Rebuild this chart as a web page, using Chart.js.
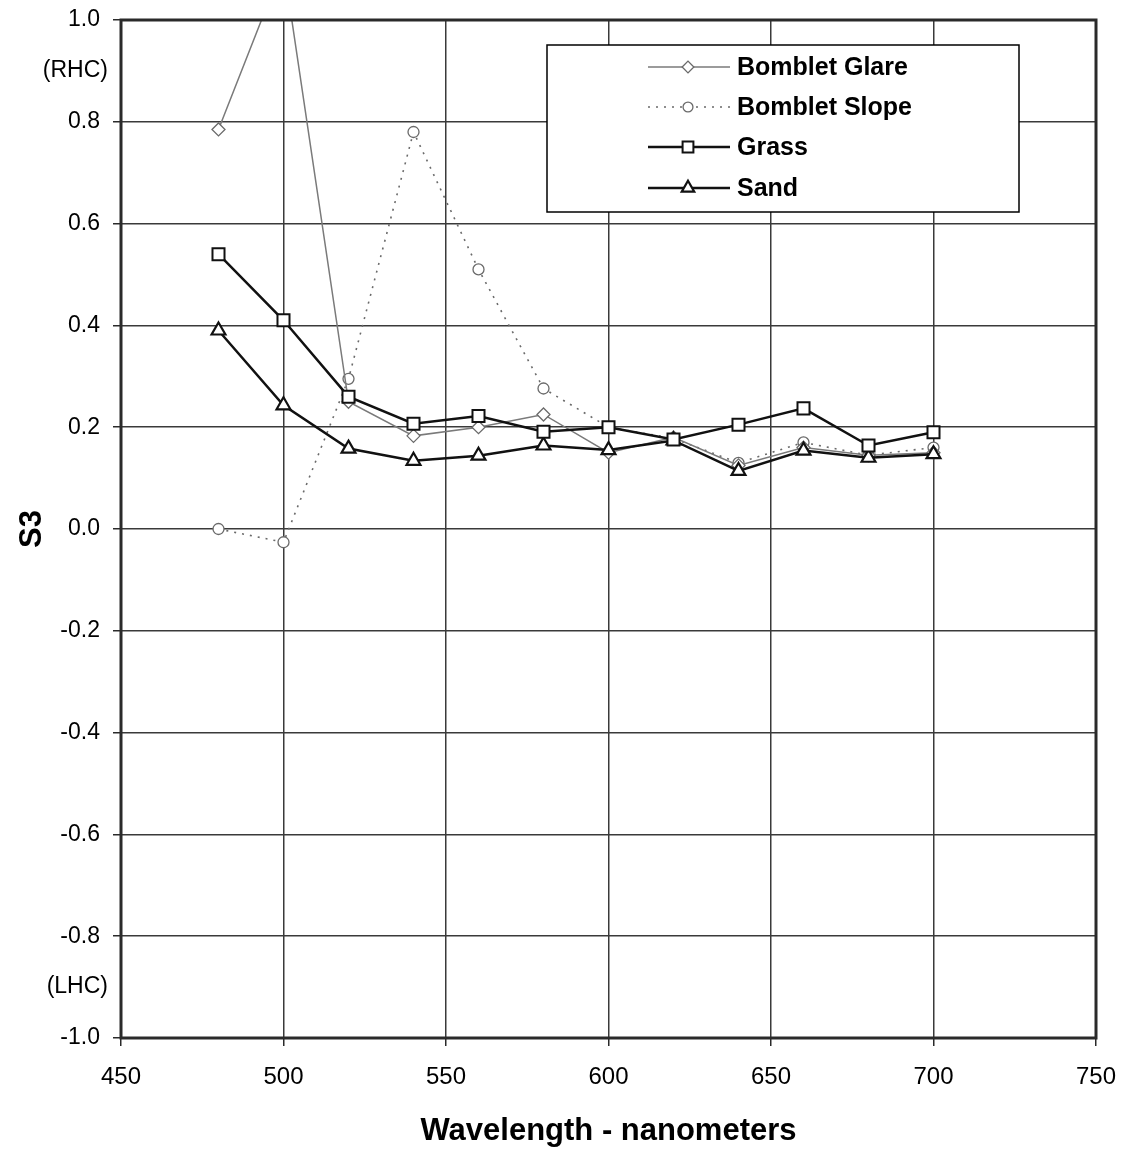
<!DOCTYPE html>
<html><head><meta charset="utf-8">
<script src="https://cdn.jsdelivr.net/npm/chart.js@4/dist/chart.umd.min.js"></script>
<style>html,body{margin:0;padding:0;background:#fff}#wrap{width:1125px;height:1150px;position:relative}</style>
</head><body><div id="wrap"><canvas id="c" width="1125" height="1150"></canvas></div>
<script>
// ---- data ----
const wavelengths = [480, 500, 520, 540, 560, 580, 600, 620, 640, 660, 680, 700];
const bombletGlare = [0.785, 1.11, 0.25, 0.183, 0.20, 0.225, 0.15, 0.18, 0.125, 0.16, 0.145, 0.15];
const bombletSlope = [0.0, -0.026, 0.295, 0.78, 0.51, 0.276, 0.20, 0.178, 0.13, 0.17, 0.145, 0.16];
const grass = [0.54, 0.41, 0.26, 0.207, 0.222, 0.191, 0.20, 0.176, 0.205, 0.237, 0.164, 0.19];
const sand = [0.39, 0.243, 0.158, 0.134, 0.144, 0.164, 0.155, 0.174, 0.114, 0.154, 0.14, 0.147];
const seriesNames = ['Bomblet Glare', 'Bomblet Slope', 'Grass', 'Sand'];
const xTickValues = [450, 500, 550, 600, 650, 700, 750];
const yTickValues = [-1.0, -0.8, -0.6, -0.4, -0.2, 0.0, 0.2, 0.4, 0.6, 0.8, 1.0];
const sideLabels = [{ value: 0.9, text: '(RHC)' }, { value: -0.9, text: '(LHC)' }];
const xTitle = 'Wavelength - nanometers';
const yTitle = 'S3';

const FONT = "'Liberation Sans', Arial, sans-serif";
const pts = (arr) => wavelengths.map((w, i) => ({ x: w, y: arr[i] }));

const datasets = [
  { label: seriesNames[0], data: pts(bombletGlare), borderColor: '#7a7a7a', borderWidth: 1.5,
    pointStyle: 'rectRot', pointRadius: 6.5, pointBorderWidth: 1.3, pointBorderColor: '#6a6a6a',
    pointBackgroundColor: '#fff', order: 3 },
  { label: seriesNames[1], data: pts(bombletSlope), borderColor: '#6a6a6a', borderWidth: 1.6, borderDash: [2, 6],
    pointStyle: 'circle', pointRadius: 5.5, pointBorderWidth: 1.3, pointBorderColor: '#6a6a6a',
    pointBackgroundColor: '#fff', order: 4 },
  { label: seriesNames[2], data: pts(grass), borderColor: '#111', borderWidth: 2.5,
    pointStyle: 'rect', pointRadius: 8.5, pointBorderWidth: 2, pointBorderColor: '#111',
    pointBackgroundColor: '#fff', order: 1 },
  { label: seriesNames[3], data: pts(sand), borderColor: '#111', borderWidth: 2.5,
    pointStyle: 'triangle', pointRadius: 8, pointBorderWidth: 2.2, pointBorderColor: '#111',
    pointBackgroundColor: '#fff', order: 2 }
].map(d => Object.assign({ showLine: true, tension: 0, clip: 0, fill: false }, d));

const overlay = {
  id: 'overlay',
  afterDraw(chart) {
    const ctx = chart.ctx, ca = chart.chartArea, ys = chart.scales.y;
    ctx.save();
    // plot frame
    ctx.strokeStyle = '#2a2a2a'; ctx.lineWidth = 3;
    ctx.strokeRect(ca.left, ca.top, ca.right - ca.left, ca.bottom - ca.top);
    // side labels
    ctx.fillStyle = '#000'; ctx.font = '23px ' + FONT;
    ctx.textAlign = 'right'; ctx.textBaseline = 'middle';
    sideLabels.forEach(s => ctx.fillText(s.text, 108, ys.getPixelForValue(s.value)));
    // legend
    const bx = 547, by = 45, bw = 472, bh = 167;
    ctx.fillStyle = '#fff'; ctx.fillRect(bx, by, bw, bh);
    ctx.strokeStyle = '#000'; ctx.lineWidth = 1.5; ctx.strokeRect(bx, by, bw, bh);
    const rows = [67, 107, 147, 188];
    const order = [0, 1, 2, 3];
    order.forEach((di, r) => {
      const ds = chart.data.datasets[di];
      const y = rows[r];
      ctx.save();
      ctx.strokeStyle = ds.borderColor; ctx.lineWidth = ds.borderWidth;
      ctx.setLineDash(ds.borderDash || []);
      ctx.beginPath(); ctx.moveTo(648, y); ctx.lineTo(730, y); ctx.stroke();
      ctx.setLineDash([]);
      ctx.fillStyle = '#fff'; ctx.strokeStyle = ds.pointBorderColor; ctx.lineWidth = ds.pointBorderWidth;
      Chart.helpers.drawPoint(ctx, { pointStyle: ds.pointStyle, radius: ds.pointRadius * 0.9, rotation: 0, borderWidth: ds.pointBorderWidth }, 688, y);
      ctx.restore();
      ctx.fillStyle = '#000'; ctx.font = 'bold 25px ' + FONT;
      ctx.textAlign = 'left'; ctx.textBaseline = 'middle';
      ctx.fillText(ds.label, 737, y + 1);
    });
    ctx.restore();
  }
};

new Chart(document.getElementById('c'), {
  type: 'scatter',
  data: { datasets },
  options: {
    responsive: false, animation: false, devicePixelRatio: 1,
    layout: { padding: { top: 20, right: 29, left: 0, bottom: 0 } },
    plugins: { legend: { display: false }, tooltip: { enabled: false } },
    scales: {
      x: {
        type: 'linear', min: 450, max: 750,
        afterBuildTicks: s => { s.ticks = xTickValues.map(v => ({ value: v })); },
        afterFit: s => { s.height = 112; s.paddingLeft = 0; s.paddingRight = 0; },
        border: { display: false },
        grid: { color: '#3a3a3a', lineWidth: 1.5, tickLength: 8, tickColor: '#2a2a2a', tickWidth: 1.5 },
        ticks: { color: '#000', font: { family: FONT, size: 24 }, padding: 17, maxRotation: 0,
          callback: v => String(v) },
        title: { display: true, text: xTitle, color: '#000', font: { family: FONT, size: 31, weight: 'bold' },
          padding: { top: 0, bottom: 0 } }
      },
      y: {
        type: 'linear', min: -1, max: 1,
        afterBuildTicks: s => { s.ticks = yTickValues.map(v => ({ value: v })); },
        afterFit: s => { s.width = 121; s.paddingTop = 0; s.paddingBottom = 0; },
        border: { display: false },
        grid: { color: '#3a3a3a', lineWidth: 1.5, tickLength: 8, tickColor: '#2a2a2a', tickWidth: 1.5 },
        ticks: { color: '#000', font: { family: FONT, size: 23 }, padding: 13,
          callback: v => (Math.abs(v) < 1e-9 ? 0 : v).toFixed(1) },
        title: { display: true, text: yTitle, color: '#000', font: { family: FONT, size: 31, weight: 'bold' },
          padding: { top: 14, bottom: 0 } }
      }
    }
  },
  plugins: [overlay]
});
</script></body></html>
